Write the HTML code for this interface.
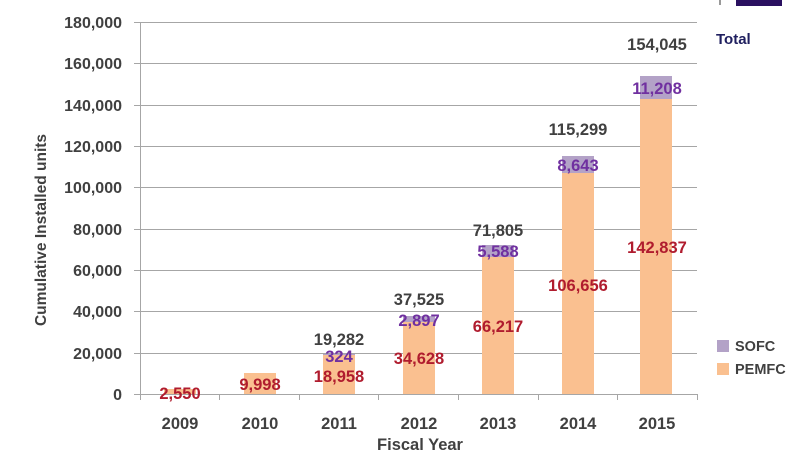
<!DOCTYPE html>
<html><head><meta charset="utf-8"><style>
html,body{margin:0;padding:0;background:#fff;}
svg{display:block;font-family:"Liberation Sans",sans-serif;font-weight:bold;}
</style></head><body>
<svg width="804" height="457" viewBox="0 0 804 457" xmlns="http://www.w3.org/2000/svg">
<rect x="736" y="0" width="46" height="6" fill="#2a1060"/>
<line x1="720" y1="0" x2="720" y2="5" stroke="#333"/>
<g stroke="#a6a6a6" stroke-width="1">
<line x1="140" y1="22.5" x2="697" y2="22.5"/>
<line x1="140" y1="63.5" x2="697" y2="63.5"/>
<line x1="140" y1="105.5" x2="697" y2="105.5"/>
<line x1="140" y1="146.5" x2="697" y2="146.5"/>
<line x1="140" y1="187.5" x2="697" y2="187.5"/>
<line x1="140" y1="229.5" x2="697" y2="229.5"/>
<line x1="140" y1="270.5" x2="697" y2="270.5"/>
<line x1="140" y1="311.5" x2="697" y2="311.5"/>
<line x1="140" y1="353.5" x2="697" y2="353.5"/>
<line x1="140" y1="394.5" x2="697" y2="394.5"/>
<line x1="140.5" y1="22" x2="140.5" y2="400"/>
<line x1="134" y1="22.5" x2="140" y2="22.5"/><line x1="134" y1="63.5" x2="140" y2="63.5"/><line x1="134" y1="105.5" x2="140" y2="105.5"/><line x1="134" y1="146.5" x2="140" y2="146.5"/><line x1="134" y1="187.5" x2="140" y2="187.5"/><line x1="134" y1="229.5" x2="140" y2="229.5"/><line x1="134" y1="270.5" x2="140" y2="270.5"/><line x1="134" y1="311.5" x2="140" y2="311.5"/><line x1="134" y1="353.5" x2="140" y2="353.5"/><line x1="134" y1="394.5" x2="140" y2="394.5"/>
<line x1="219.5" y1="394" x2="219.5" y2="400"/><line x1="299.5" y1="394" x2="299.5" y2="400"/><line x1="378.5" y1="394" x2="378.5" y2="400"/><line x1="458.5" y1="394" x2="458.5" y2="400"/><line x1="538.5" y1="394" x2="538.5" y2="400"/><line x1="617.5" y1="394" x2="617.5" y2="400"/><line x1="697.5" y1="394" x2="697.5" y2="400"/>
</g>
<g fill="#fac090">
<rect x="164" y="389" width="32" height="5"/>
<rect x="244" y="373" width="32" height="21"/>
<rect x="323" y="355" width="32" height="39"/>
<rect x="403" y="322" width="32" height="72"/>
<rect x="482" y="257" width="32" height="137"/>
<rect x="562" y="173" width="32" height="221"/>
<rect x="640" y="99" width="32" height="295"/>
</g>
<g fill="#b3a2c7">
<rect x="323" y="354" width="32" height="1"/>
<rect x="403" y="316" width="32" height="6"/>
<rect x="482" y="245" width="32" height="12"/>
<rect x="562" y="156" width="32" height="17"/>
<rect x="640" y="76" width="32" height="23"/>
</g>
<g font-size="16" fill="#404040" text-anchor="end">
<text x="122" y="28">180,000</text><text x="122" y="69">160,000</text><text x="122" y="111">140,000</text><text x="122" y="152">120,000</text><text x="122" y="193">100,000</text><text x="122" y="235">80,000</text><text x="122" y="276">60,000</text><text x="122" y="317">40,000</text><text x="122" y="359">20,000</text><text x="122" y="400">0</text>
</g>
<g font-size="16.5" fill="#404040" text-anchor="middle">
<text x="180" y="429">2009</text><text x="260" y="429">2010</text><text x="339" y="429">2011</text><text x="419" y="429">2012</text><text x="498" y="429">2013</text><text x="578" y="429">2014</text><text x="657" y="429">2015</text>
<text x="420" y="450">Fiscal Year</text>
<text transform="translate(46,230) rotate(-90)" font-size="15.5">Cumulative Installed units</text>
<text x="339" y="345">19,282</text><text x="419" y="305">37,525</text><text x="498" y="236">71,805</text><text x="578" y="135">115,299</text><text x="657" y="50">154,045</text>
</g>
<g font-size="16.5" fill="#b01c2e" text-anchor="middle">
<text x="180" y="399">2,550</text><text x="260" y="390">9,998</text><text x="339" y="382">18,958</text><text x="419" y="364">34,628</text><text x="498" y="332">66,217</text><text x="578" y="291">106,656</text><text x="657" y="253">142,837</text>
</g>
<g font-size="16.5" fill="#7030a0" text-anchor="middle">
<text x="339" y="362">324</text><text x="419" y="326">2,897</text><text x="498" y="257">5,588</text><text x="578" y="171">8,643</text><text x="657" y="94">11,208</text>
</g>
<text x="716" y="44" font-size="15" fill="#1f1f5f">Total</text>
<rect x="717" y="340" width="12" height="12" fill="#b3a2c7"/>
<rect x="717" y="363" width="12" height="12" fill="#fac090"/>
<text x="735" y="351" font-size="14.5" fill="#404040">SOFC</text>
<text x="735" y="374" font-size="14.5" fill="#404040">PEMFC</text>
</svg>
</body></html>
